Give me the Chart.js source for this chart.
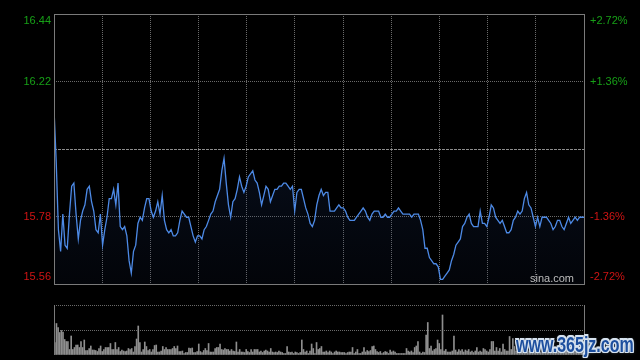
<!DOCTYPE html>
<html><head><meta charset="utf-8">
<script src="https://cdn.jsdelivr.net/npm/chart.js@4/dist/chart.umd.min.js"></script>
<style>
html,body{margin:0;padding:0;background:#000;}
#wrap{position:relative;width:640px;height:360px;background:#000;overflow:hidden;}
canvas{position:absolute;left:0;}
#wm{position:absolute;left:516px;top:334px;font:bold 16px "Liberation Sans",Arial,sans-serif;line-height:16px;color:#1d4f9e;transform:scaleY(1.35);transform-origin:0 0;white-space:nowrap;
text-shadow:1px 0 0 #d6e2ef,-1px 0 0 #d6e2ef,0 1px 0 #d6e2ef,0 -1px 0 #d6e2ef,1px 1px 0 #d6e2ef,-1px -1px 0 #d6e2ef,1px -1px 0 #d6e2ef,-1px 1px 0 #d6e2ef,0 0 3px #9fb6d0;}
</style></head>
<body><div id="wrap">
<canvas id="main" width="640" height="300" style="top:0"></canvas>
<canvas id="vol" width="640" height="70" style="top:290px"></canvas>
<div id="wm">www.365jz.com</div>
</div>
<script>
const prevClose = 16.00;
const pctTicks = [-2.72, -1.36, 0, 1.36, 2.72];
const prices = [
16.13,15.96,15.74,15.67,15.79,15.69,15.68,15.79,15.88,15.89,
15.79,15.71,15.77,15.80,15.82,15.87,15.88,15.83,15.80,15.74,
15.73,15.79,15.69,15.74,15.78,15.84,15.84,15.87,15.82,15.89,
15.75,15.74,15.75,15.72,15.64,15.60,15.67,15.69,15.76,15.78,
15.77,15.81,15.84,15.84,15.80,15.78,15.80,15.83,15.79,15.85,
15.77,15.74,15.73,15.74,15.72,15.72,15.73,15.77,15.80,15.79,
15.78,15.78,15.75,15.72,15.70,15.72,15.72,15.71,15.74,15.75,
15.77,15.79,15.80,15.83,15.85,15.87,15.93,15.97,15.89,15.82,
15.78,15.83,15.84,15.87,15.91,15.88,15.86,15.88,15.91,15.92,
15.93,15.90,15.89,15.86,15.82,15.85,15.88,15.87,15.83,15.85,
15.87,15.87,15.88,15.88,15.89,15.89,15.88,15.87,15.88,15.80,
15.86,15.87,15.87,15.84,15.81,15.79,15.76,15.75,15.77,15.82,
15.85,15.87,15.85,15.86,15.86,15.80,15.80,15.80,15.81,15.82,
15.81,15.81,15.80,15.78,15.77,15.77,15.77,15.78,15.79,15.80,
15.81,15.80,15.78,15.77,15.79,15.80,15.80,15.80,15.78,15.78,
15.79,15.78,15.78,15.79,15.80,15.80,15.81,15.80,15.79,15.79,
15.79,15.79,15.78,15.79,15.79,15.79,15.77,15.74,15.68,15.68,
15.65,15.64,15.63,15.63,15.62,15.58,15.58,15.59,15.60,15.61,
15.64,15.66,15.69,15.70,15.71,15.75,15.76,15.78,15.79,15.76,
15.75,15.75,15.75,15.80,15.76,15.76,15.75,15.78,15.82,15.81,
15.78,15.77,15.76,15.77,15.75,15.73,15.73,15.74,15.77,15.78,
15.80,15.79,15.80,15.84,15.86,15.82,15.81,15.78,15.75,15.78,
15.75,15.78,15.78,15.78,15.77,15.76,15.74,15.75,15.77,15.77,
15.75,15.74,15.76,15.78,15.76,15.77,15.78,15.77,15.78,15.78,15.78
];
const volumes = [
25,63,55,45,49,46,31,27,27,11,38,11,15,20,20,15,27,15,30,9,
9,13,18,10,10,9,7,13,18,7,11,15,15,15,23,11,11,25,11,15,
7,10,8,7,8,13,11,13,6,17,32,58,25,6,11,26,17,9,11,6,
11,19,20,6,6,8,17,11,15,11,11,11,13,17,13,18,7,7,8,3,
5,5,14,13,14,5,5,7,22,7,5,9,13,9,23,6,6,6,13,15,
15,22,11,10,13,11,11,8,11,8,7,26,6,11,6,6,5,11,7,5,
11,6,11,11,11,6,8,5,8,10,8,6,13,6,5,6,5,8,6,5,
3,3,17,6,5,6,3,6,5,3,5,30,11,6,8,3,8,22,13,3,
25,11,13,17,6,6,8,5,8,6,3,6,8,6,6,5,5,
5,3,5,6,6,15,3,6,11,3,3,6,15,6,9,7,9,17,18,11,
7,5,7,3,5,7,6,3,10,6,8,6,3,3,3,3,3,3,13,8,
6,8,5,15,18,27,6,3,6,5,40,65,13,18,8,11,13,30,23,11,
80,8,11,6,6,6,8,38,10,6,11,8,11,6,10,8,11,6,8,5,
8,15,6,8,6,13,11,8,6,11,27,27,8,15,8,13,6,22,11,8,
8,37,11,33,17,
8,6,11,6,8,13,6,5,8,11,6,8,6,15,8,6,11,8,5,6,
8,11,6,8,13,6,8,5,11,8,6,8,13,6,11,8,6,8,22,8,6,11
];
const volumeTicks = [0, 50, 100];

const GREEN = '#17a017', RED = '#d01414', GRID = '#6a6a6a', MID = '#8c8c8c', NONE = 'rgba(0,0,0,0)';
Chart.defaults.font.family = '"Liberation Sans", Arial, sans-serif';
Chart.defaults.font.size = 11;

const lastMinute = prices.length - 1;
const columns = 11;
const priceTicks = pctTicks.map(p => prevClose * (1 + p / 100));
const lastIdx = pctTicks.length - 1, midIdx = pctTicks.indexOf(0);
const tickColor = c => c.index > midIdx ? GREEN : (c.index < midIdx ? RED : '#888');
const edgeLabel = (s, i) => i === midIdx ? '' : (i === lastIdx ? ['', s] : (i === 0 ? [s, ''] : s));
const noPad = (s, w) => { s.width = w; s.paddingTop = 0; s.paddingBottom = 0; };

const frame = {
  id: 'frame',
  afterDatasetsDraw(chart) {
    const {ctx, chartArea: a} = chart;
    ctx.save();
    ctx.strokeStyle = '#7a7a7a'; ctx.lineWidth = 1;
    ctx.strokeRect(a.left + 0.5, a.top + 0.5, a.right - a.left, a.bottom - a.top);
    ctx.fillStyle = '#bdbdbd';
    ctx.font = '11px "Liberation Sans", Arial, sans-serif';
    ctx.textAlign = 'right'; ctx.textBaseline = 'alphabetic';
    ctx.fillText('sina.com', a.right - 10, a.bottom - 2);
    ctx.restore();
  }
};

new Chart(document.getElementById('main'), {
  type: 'line',
  data: {
    datasets: [{
      data: prices.map((p, i) => ({x: i, y: p})),
      borderColor: '#4d8ae6',
      borderWidth: 1.3,
      pointRadius: 0,
      tension: 0,
      fill: 'start',
      backgroundColor: (c) => {
        const {ctx, chartArea} = c.chart;
        if (!chartArea) return 'rgba(30,60,120,0.15)';
        const g = ctx.createLinearGradient(0, chartArea.top, 0, chartArea.bottom);
        g.addColorStop(0, 'rgba(45,85,170,0.32)');
        g.addColorStop(1, 'rgba(25,45,90,0.10)');
        return g;
      },
      yAxisID: 'y'
    }]
  },
  options: {
    responsive: false, animation: false, devicePixelRatio: 1,
    layout: {padding: {top: 14, left: 0, right: 0, bottom: 0}},
    plugins: {legend: {display: false}, tooltip: {enabled: false}},
    scales: {
      x: {
        type: 'linear', min: 0, max: lastMinute,
        afterBuildTicks: (s) => { const t = []; for (let k = 0; k <= columns; k++) t.push({value: lastMinute * k / columns}); s.ticks = t; },
        afterFit: (s) => { s.height = 16; s.paddingLeft = 0; s.paddingRight = 0; },
        ticks: {display: false},
        grid: {drawTicks: false, color: c => (c.index === 0 || c.index === columns) ? NONE : GRID},
        border: {display: false, dash: [1, 1]}
      },
      y: {
        position: 'left',
        min: priceTicks[0], max: priceTicks[lastIdx],
        afterBuildTicks: (s) => { s.ticks = priceTicks.map(v => ({value: v})); },
        afterFit: (s) => noPad(s, 54),
        ticks: {padding: 3, color: tickColor, callback: (v, i) => edgeLabel(Number(v).toFixed(2), i)},
        grid: {drawTicks: false, color: c => (c.index === 0 || c.index === lastIdx) ? NONE : (c.index === midIdx ? MID : GRID)},
        border: {display: false, dash: c => c.index === midIdx ? [3, 1] : [1, 1]}
      },
      y2: {
        position: 'right',
        min: pctTicks[0], max: pctTicks[lastIdx],
        afterBuildTicks: (s) => { s.ticks = pctTicks.map(v => ({value: v})); },
        afterFit: (s) => noPad(s, 56),
        ticks: {padding: 6, color: tickColor, callback: (v, i) => edgeLabel((v > 0 ? '+' : '') + Number(v).toFixed(2) + '%', i)},
        grid: {display: false, drawTicks: false},
        border: {display: false}
      }
    }
  },
  plugins: [frame]
});

const volFrame = {
  id: 'volFrame',
  afterDatasetsDraw(chart) {
    const {ctx, chartArea: a} = chart;
    ctx.save();
    ctx.strokeStyle = '#7a7a7a'; ctx.lineWidth = 1;
    ctx.beginPath();
    ctx.moveTo(a.left + 0.5, a.top); ctx.lineTo(a.left + 0.5, a.bottom);
    ctx.moveTo(a.right + 0.5, a.top); ctx.lineTo(a.right + 0.5, a.bottom);
    ctx.stroke();
    ctx.restore();
  }
};

new Chart(document.getElementById('vol'), {
  type: 'bar',
  data: {
    labels: volumes.map((_, i) => i),
    datasets: [{data: volumes, backgroundColor: '#8e8e8e', barThickness: 1}]
  },
  options: {
    responsive: false, animation: false, devicePixelRatio: 1,
    layout: {padding: {top: 15, right: 56, bottom: 5, left: 0}},
    plugins: {legend: {display: false}, tooltip: {enabled: false}},
    scales: {
      x: {display: false},
      y: {
        min: volumeTicks[0], max: volumeTicks[volumeTicks.length - 1],
        afterBuildTicks: (s) => { s.ticks = volumeTicks.map(v => ({value: v})); },
        afterFit: (s) => { s.width = 54; },
        ticks: {display: false},
        grid: {drawTicks: false, color: c => c.index === 0 ? NONE : GRID},
        border: {display: false, dash: [1, 1]}
      }
    }
  },
  plugins: [volFrame]
});
</script>
</body></html>
